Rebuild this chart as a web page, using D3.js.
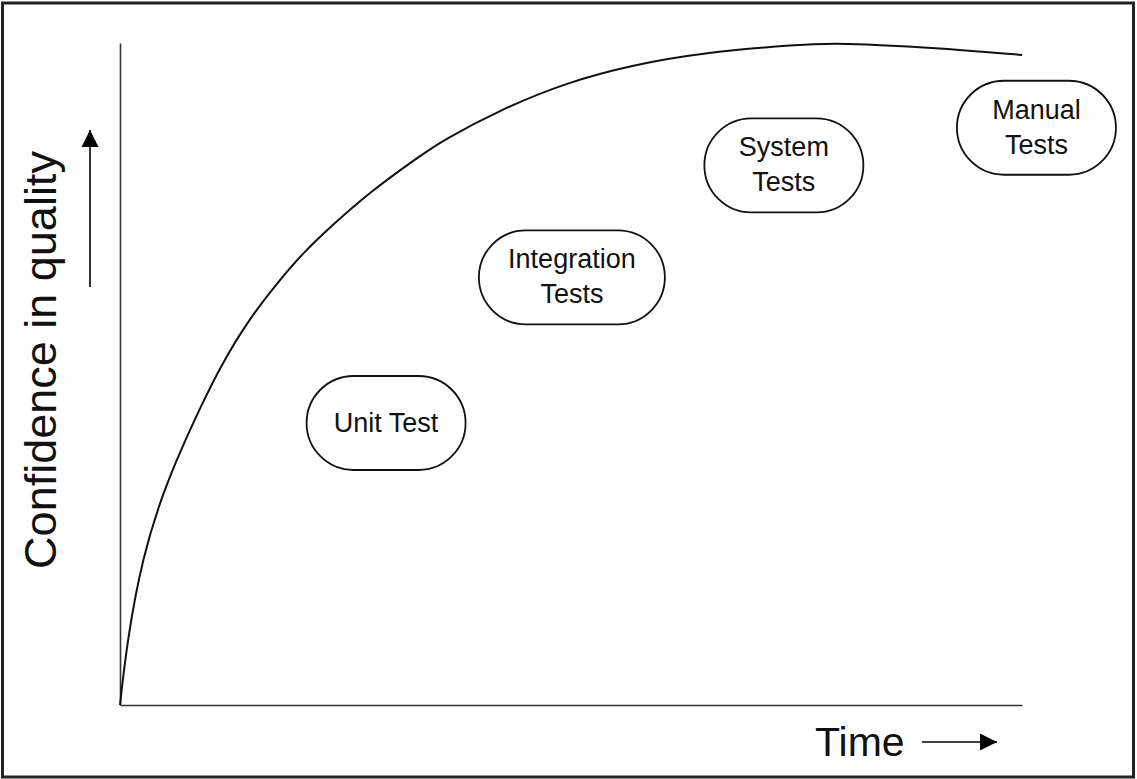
<!DOCTYPE html>
<html>
<head>
<meta charset="utf-8">
<script src="https://cdn.jsdelivr.net/npm/d3@7"></script>
<style>
  body { margin: 0; background: #fff; }
  text { font-family: "Liberation Sans", Arial, sans-serif; fill: #111; }
</style>
</head>
<body>
<script>
var w = 1137;
var h = 779;

// curve: time (0-100) vs confidence (0-100)
var timeVals = [0, 0.8, 2.5, 4.8, 6.9, 8.9, 11.1, 14.4, 17.7, 20.3, 23.3, 27.7, 33.3, 35.8, 42.1, 49.6, 56.9, 64.3, 75.4, 79.8, 90, 100];
var confVals = [0, 9.8, 22.4, 32.2, 39.0, 44.9, 51.1, 58.5, 64.2, 68.3, 72.2, 77.5, 83.0, 85.3, 89.9, 94.1, 96.7, 98.5, 99.8, 100, 99.3, 98.2];

// test stages shown as pills
var stageNames = [["Unit Test"], ["Integration", "Tests"], ["System", "Tests"], ["Manual", "Tests"]];
var stageTime = [29.5, 50.1, 73.6, 101.6];
var stageConf = [42.6, 64.6, 81.5, 87.2];
var stageWidth = [159, 186, 159, 159];

var x = d3.scaleLinear().domain([0, 100]).range([120, 1022]);
var y = d3.scaleLinear().domain([0, 100]).range([705, 43]);

var svg = d3.select("body").append("svg").attr("width", w).attr("height", h);

svg.append("defs").append("marker")
    .attr("id", "head")
    .attr("viewBox", "0 0 10 10")
    .attr("refX", 10).attr("refY", 5)
    .attr("markerUnits", "userSpaceOnUse")
    .attr("markerWidth", 17).attr("markerHeight", 18)
    .attr("orient", "auto")
    .append("path")
    .attr("d", "M0,0L10,5L0,10Z")
    .style("fill", "#000");

// frame
svg.append("rect")
    .attr("x", 2.5).attr("y", 3)
    .attr("width", 1131).attr("height", 774)
    .style("fill", "none")
    .style("stroke", "#222")
    .style("stroke-width", 3);

// axes (no ticks)
var xAxis = d3.axisBottom(x).tickValues([]).tickSizeOuter(0);
var yAxis = d3.axisLeft(y).tickValues([]).tickSizeOuter(0);
svg.append("g").attr("transform", "translate(0,705)").call(xAxis)
    .select(".domain").style("stroke", "#333").style("stroke-width", 1.6);
svg.append("g").attr("transform", "translate(120,0)").call(yAxis)
    .select(".domain").style("stroke", "#333").style("stroke-width", 1.6);

var pts = timeVals.map(function (t, i) { return [t, confVals[i]]; });
var line = d3.line()
    .x(function (d) { return x(d[0]); })
    .y(function (d) { return y(d[1]); })
    .curve(d3.curveBasis);

svg.append("path")
    .datum(pts)
    .attr("d", line)
    .style("fill", "none")
    .style("stroke", "#111")
    .style("stroke-width", 2);

// pills
var stages = stageNames.map(function (n, i) {
    return { lines: n, t: stageTime[i], c: stageConf[i], w: stageWidth[i] };
});
var g = svg.selectAll("g.stage")
    .data(stages)
    .enter()
    .append("g")
    .attr("class", "stage")
    .attr("transform", function (d) { return "translate(" + x(d.t) + "," + y(d.c) + ")"; });

g.append("rect")
    .attr("x", function (d) { return -d.w / 2; })
    .attr("y", -47)
    .attr("width", function (d) { return d.w; })
    .attr("height", 94)
    .attr("rx", 47).attr("ry", 47)
    .style("fill", "#fff")
    .style("stroke", "#111")
    .style("stroke-width", 1.8);

g.selectAll("text")
    .data(function (d) {
        return d.lines.map(function (s, j) {
            return { s: s, dy: d.lines.length == 1 ? 9.5 : (j == 0 ? -9 : 26) };
        });
    })
    .enter()
    .append("text")
    .attr("text-anchor", "middle")
    .attr("y", function (d) { return d.dy; })
    .style("font-size", "27px")
    .text(function (d) { return d.s; });

// axis titles
svg.append("text")
    .attr("transform", "translate(56,360) rotate(-90)")
    .attr("text-anchor", "middle")
    .style("font-size", "45px")
    .text("Confidence in quality");

svg.append("line")
    .attr("x1", 90).attr("y1", 287)
    .attr("x2", 90).attr("y2", 130)
    .style("stroke", "#000")
    .style("stroke-width", 1.6)
    .attr("marker-end", "url(#head)");

svg.append("text")
    .attr("x", 815).attr("y", 756)
    .style("font-size", "41px")
    .text("Time");

svg.append("line")
    .attr("x1", 922).attr("y1", 742)
    .attr("x2", 997).attr("y2", 742)
    .style("stroke", "#000")
    .style("stroke-width", 1.6)
    .attr("marker-end", "url(#head)");
</script>
</body>
</html>
